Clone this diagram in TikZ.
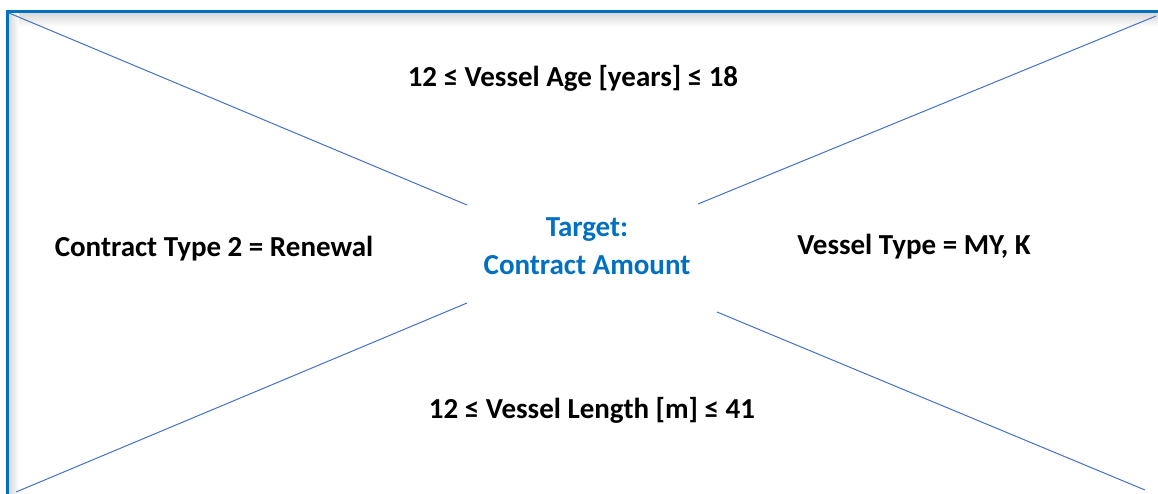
\documentclass[tikz,border=0pt]{standalone}
\usepackage{fontspec}
\setmainfont{Carlito}
\definecolor{frameblue}{HTML}{0070C0}
\definecolor{lineblue}{HTML}{4472C4}
\begin{document}
\begin{tikzpicture}[x=1pt,y=-1pt,
  lbl/.style={font=\fontsize{29}{38}\selectfont\bfseries, text=black, inner sep=0pt, align=center},
  ray/.style={draw=lineblue, line width=1pt}]
\useasboundingbox (0,0) rectangle (1158,493);
\clip (0,0) rectangle (1158,493);
\fill[white] (0,0) rectangle (1158,493);
% soft inner shadow under the top and left edges of the frame
\shade[top color=black!16, bottom color=white] (8,12) rectangle (1170,27);
\shade[left color=black!16, right color=white] (8,12) rectangle (19,510);
\fill[white] (19,27) rectangle (1170,510);
% corner and hub points
\coordinate (tl) at (9,13);
\coordinate (tr) at (1156,16);
\coordinate (bl) at (16,492);
\coordinate (br) at (1145,490);
\coordinate (htl) at (467,205);
\coordinate (htr) at (698,204);
\coordinate (hbl) at (467,303);
\coordinate (hbr) at (717,312);
\draw[ray] (tl) -- (htl);
\draw[ray] (tr) -- (htr);
\draw[ray] (bl) -- (hbl);
\draw[ray] (br) -- (hbr);
% frame
\draw[frameblue, line width=3pt] (7,520) -- (7,11) -- (1175,11);
% labels
\node[lbl] (age) at (573,78) {12 ≤ Vessel Age [years] ≤ 18};
\node[lbl] (ctype) at (214,249) {Contract Type 2 = Renewal};
\node[lbl] (vtype) at (914,247) {Vessel Type = MY, K};
\node[lbl] (len) at (592,410) {12 ≤ Vessel Length [m] ≤ 41};
\node[lbl, text=frameblue] (target) at (587,246) {Target:\\Contract Amount};
\end{tikzpicture}
\end{document}
